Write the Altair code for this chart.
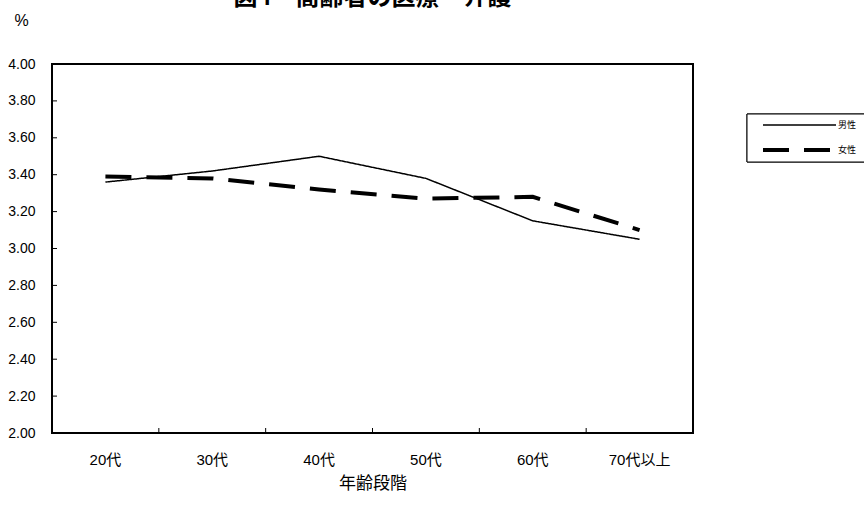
import altair as alt
import pandas as pd

# Age groups and average scores by sex
ages = ["20代", "30代", "40代", "50代", "60代", "70代以上"]
male = [3.36, 3.42, 3.50, 3.38, 3.15, 3.05]
female = [3.39, 3.38, 3.32, 3.27, 3.28, 3.10]
sexes = ["男性", "女性"]
y_ticks = [2.0, 2.2, 2.4, 2.6, 2.8, 3.0, 3.2, 3.4, 3.6, 3.8, 4.0]

rows = []
for i, (a, m, f) in enumerate(zip(ages, male, female)):
    rows.append({"age": a, "idx": i, "sex": "男性", "value": m})
    rows.append({"age": a, "idx": i, "sex": "女性", "value": f})
df = pd.DataFrame(rows)
ytick_df = pd.DataFrame({"v": y_ticks})
xtick_df = pd.DataFrame({"age": ages[1:]})
legend_df = pd.DataFrame({"sex": sexes})

FONT = "Liberation Sans, Noto Sans CJK JP"
JP = "Noto Sans CJK JP"

xscale = alt.Scale(type="band", domain=ages, paddingInner=0, paddingOuter=0)
yscale = alt.Scale(domain=[2.0, 4.0], nice=False, zero=False)
dash_scale = alt.Scale(domain=sexes, range=[[1, 0], [26, 15]])
width_scale = alt.Scale(domain=sexes, range=[1.5, 4])

x_axis = alt.Axis(title="年齢段階", labelAngle=0, domain=False, ticks=False,
                  bandPosition=0.5, labelAlign="center",
                  labelFont=FONT, labelFontSize=15, labelPadding=19,
                  labelColor="black", titleFont=JP, titleFontSize=17,
                  titleFontWeight="normal", titlePadding=8,
                  titleColor="black")

lines = alt.Chart(df).mark_line(color="black").encode(
    x=alt.X("age:N", scale=xscale, sort=ages, bandPosition=0.5, axis=x_axis),
    y=alt.Y("value:Q", scale=yscale,
            axis=alt.Axis(values=y_ticks, format=".2f", domain=False, ticks=False,
                          grid=False, labelOverlap=False, labelFont=FONT,
                          labelFontSize=14, labelPadding=17, labelColor="black",
                          title="%", titleAngle=0, titleFont=FONT,
                          titleFontSize=16, titleFontWeight="normal",
                          titleColor="black", titleAlign="center",
                          titleBaseline="middle", titleX=-31, titleY=-44)),
    strokeDash=alt.StrokeDash("sex:N", scale=dash_scale, legend=None),
    strokeWidth=alt.StrokeWidth("sex:N", scale=width_scale, legend=None),
    order=alt.Order("idx:Q"),
)

# inward tick marks on the y axis
yt = alt.Chart(ytick_df).mark_rule(color="black", strokeWidth=1).encode(
    y=alt.Y("v:Q", scale=yscale, axis=None),
    x=alt.value(0),
    x2=alt.value(5),
)

# inward tick marks between age groups on the x axis
xt = alt.Chart(xtick_df).mark_rule(color="black", strokeWidth=1).encode(
    x=alt.X("age:N", scale=xscale, sort=ages, bandPosition=0, axis=x_axis),
    y=alt.value(369),
    y2=alt.value(364),
)

# legend: framed box with a line sample and label per series
legend_row = alt.Scale(type="point", domain=sexes, range=[61, 86], padding=0)
leg_box = alt.Chart(legend_df).mark_rect(
    fill="white", stroke="black", strokeWidth=1
).encode(
    x=alt.value(695), x2=alt.value(815), y=alt.value(50), y2=alt.value(98),
)
leg_lines = alt.Chart(legend_df).mark_rule(color="black").encode(
    y=alt.Y("sex:N", scale=legend_row, axis=None),
    x=alt.value(711),
    x2=alt.value(784),
    strokeDash=alt.StrokeDash("sex:N", scale=dash_scale, legend=None),
    strokeWidth=alt.StrokeWidth("sex:N", scale=width_scale, legend=None),
)
leg_text = alt.Chart(legend_df).mark_text(
    align="left", baseline="middle", font=JP, fontSize=9, color="black", dx=1
).encode(
    y=alt.Y("sex:N", scale=legend_row, axis=None),
    x=alt.value(785),
    text="sex:N",
)

chart = alt.layer(yt, xt, lines, leg_box, leg_lines, leg_text).resolve_scale(
    y="independent"
).properties(
    width=641,
    height=369,
    title=alt.TitleParams("図4　高齢者の医療・介護", font=JP, fontSize=24,
                          fontWeight="bold", color="black", anchor="middle",
                          offset=2),
    autosize=alt.AutoSizeParams(type="none"),
    padding={"left": 52, "top": 64, "right": 171, "bottom": 77},
).configure(
    background="white"
).configure_view(
    stroke="black", strokeWidth=2
)

chart.save("out.html", embed_options={"renderer": "svg", "actions": False})
